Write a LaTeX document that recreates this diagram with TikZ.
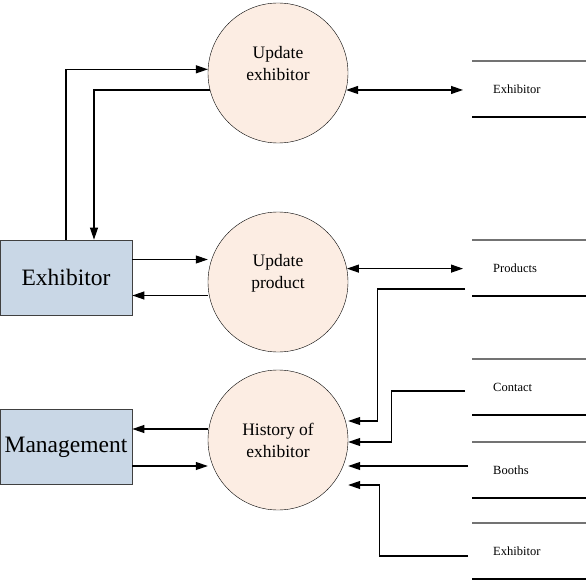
\documentclass[tikz,border=0pt]{standalone}
\usepackage{fontspec}
\setmainfont{Liberation Serif}
\usetikzlibrary{positioning,arrows.meta,calc}
\definecolor{procfill}{RGB}{252,237,227}
\definecolor{entfill}{RGB}{201,215,230}

\begin{document}
\begin{tikzpicture}[x=1pt,y=-1pt]
\tikzset{proc/.style={circle,draw,thin,fill=procfill,minimum size=140pt,inner sep=0pt},
  proctext/.style={align=center,font=\fontsize{17.5}{22}\selectfont},
  ent/.style={draw=black!75,thick,fill=entfill,minimum width=132pt,minimum height=75pt,inner sep=0pt,font=\fontsize{23.5}{26}\selectfont},
  storetext/.style={anchor=west,inner sep=0pt,font=\fontsize{12.5}{14}\selectfont},
  storeline/.style={line width=1.1pt},
  flow/.style={line width=1.1pt,-{Triangle[length=12pt,width=8pt]}},
  biflow/.style={line width=1.1pt,{Triangle[length=12pt,width=8pt]}-{Triangle[length=12pt,width=8pt]}}}
\useasboundingbox (0,0) rectangle (586,580);
% processes
\node[proc] (upex) at (278,73) {};
\node[proctext] at ([yshift=9pt]upex.center) {Update\\exhibitor};
\node[proc] (upprod) at (278,282) {};
\node[proctext] at ([yshift=9pt]upprod.center) {Update\\product};
\node[proc] (hist) at (278,440) {};
\node[proctext] at (hist.center) {History of\\exhibitor};
% external entities
\node[ent] (exh) at (66,277.5) {Exhibitor};
\node[ent] (mgmt) at (66,447) {Management};
% data stores
\foreach \name/\lab/\y in {sex/Exhibitor/89,sprod/Products/268,scont/Contact/387,sbooth/Booths/470,sexh/Exhibitor/551}{
  \node[storetext] (\name) at (493,\y) {\lab};
  \draw[storeline,black!55] (472,\y-28) -- (586,\y-28);
  \draw[storeline] (472,\y+28) -- (586,\y+28);
  \coordinate (\name-in) at (463,\y);
}
\coordinate (sprod-out) at ([xshift=-28pt,yshift=-21pt]sprod.west);
\coordinate (scont-out) at ([xshift=-28pt,yshift=-4pt]scont.west);
\coordinate (sbooth-out) at ([xshift=-25pt,yshift=4pt]sbooth.west);
\coordinate (sexh-out) at ([xshift=-25pt,yshift=-5pt]sexh.west);
% flows
\draw[flow] (exh.north) |- (upex.177);
\draw[flow] (upex.194) -| ([xshift=28pt]exh.north);
\draw[biflow] (upex.-14) -- (upex.-14 -| sex-in);
\draw[flow] ([yshift=18pt]exh.east) -- ([yshift=18pt]exh.east -| upprod.west);
\draw[flow] ([yshift=-18pt]exh.east -| upprod.west) -- ([yshift=-18pt]exh.east);
\draw[biflow] (upprod.11.5) -- (upprod.11.5 -| sprod-in);
\draw[flow] ([yshift=18pt]mgmt.east -| hist.west) -- ([yshift=18pt]mgmt.east);
\draw[flow] ([yshift=-19pt]mgmt.east) -- ([yshift=-19pt]mgmt.east -| hist.west);
\draw[flow] (sprod-out) -| ([xshift=29pt,yshift=19pt]hist.east) -- ([yshift=19pt]hist.east);
\draw[flow] (scont-out) -| ([xshift=43pt,yshift=-2pt]hist.east) -- ([yshift=-2pt]hist.east);
\draw[flow] (sbooth-out) -- (hist.east |- sbooth-out);
\draw[flow] (sexh-out) -| ([xshift=31pt,yshift=-45pt]hist.east) -- ([yshift=-45pt]hist.east);
\end{tikzpicture}
\end{document}
